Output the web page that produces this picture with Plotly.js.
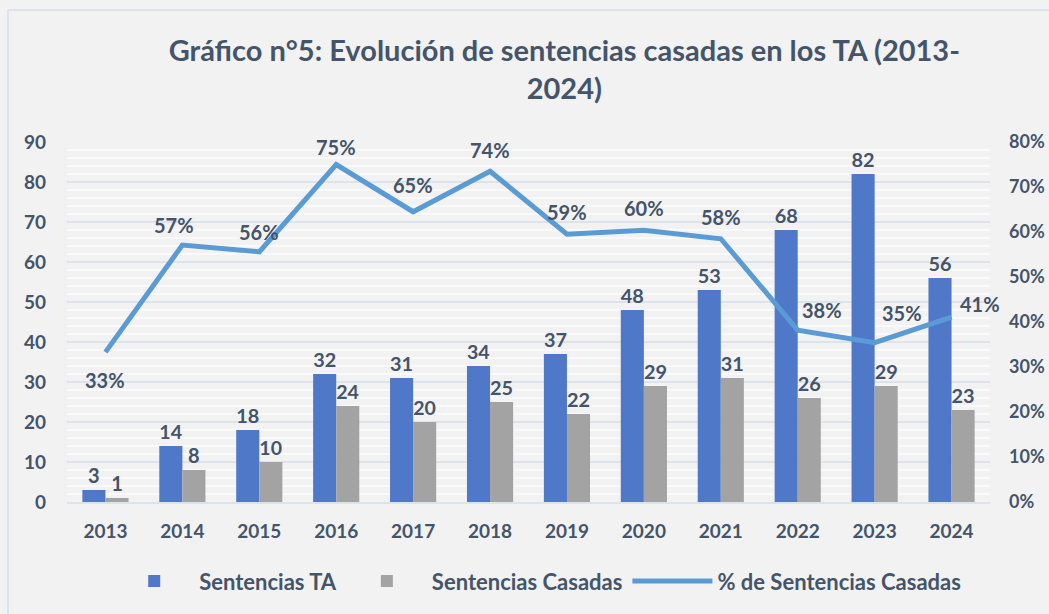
<!DOCTYPE html>
<html>
<head>
<meta charset="utf-8">
<script src="https://cdn.plot.ly/plotly-3.0.1.min.js"></script>
<style>
  html, body { margin: 0; padding: 0; background: #f2f2f2; }
  #chart { width: 1049px; height: 614px; }
</style>
</head>
<body>
<div id="chart"></div>
<script>
var years = ['2013','2014','2015','2016','2017','2018','2019','2020','2021','2022','2023','2024'];
var sentenciasTA = [3, 14, 18, 32, 31, 34, 37, 48, 53, 68, 82, 56];
var sentenciasCasadas = [1, 8, 10, 24, 20, 25, 22, 29, 31, 26, 29, 23];
var pctCasadas = [33.3, 57.1, 55.6, 75, 64.5, 73.5, 59.5, 60.4, 58.5, 38.2, 35.4, 41.1];
var pctLabels = ['33%','57%','56%','75%','65%','74%','59%','60%','58%','38%','35%','41%'];

var txtColor = '#44546a';
var font = 'Lato, "Open Sans", sans-serif';

// barras
var trace1 = {
  x: years, y: sentenciasTA, type: 'bar', name: 'Sentencias TA',
  marker: {color: '#4f78c9'},
  text: sentenciasTA.map(String), textposition: 'outside',
  textfont: {family: font, size: 20, color: txtColor, weight: 'bold'},
  cliponaxis: false, hoverinfo: 'none'
};
var trace2 = {
  x: years, y: sentenciasCasadas, type: 'bar', name: 'Sentencias Casadas',
  marker: {color: '#a3a3a3'},
  text: sentenciasCasadas.map(String), textposition: 'outside',
  textfont: {family: font, size: 20, color: txtColor, weight: 'bold'},
  cliponaxis: false, hoverinfo: 'none'
};
// linea %
var trace3 = {
  x: years, y: pctCasadas, type: 'scatter', mode: 'lines', yaxis: 'y2',
  name: '% de Sentencias Casadas',
  line: {color: '#5b9bd5', width: 5},
  cliponaxis: false, hoverinfo: 'none'
};

// etiquetas de % (desplazamiento en px respecto al punto)
var lblDx = [0, -8, 0, 0, 0, 0, 0, 0, 0, 24, 27, 28];
var lblDy = [-28, 20, 20, 18, 27, 21, 22, 22, 22, 20, 30, 13];
var pctAnn = [];
for (var i = 0; i < years.length; i++) {
  pctAnn.push({
    x: i, y: pctCasadas[i], xref: 'x', yref: 'y2', text: '<b>' + pctLabels[i] + '</b>',
    showarrow: false, xshift: lblDx[i], yshift: lblDy[i],
    font: {family: font, size: 20, color: txtColor}
  });
}

var layout = {
  width: 1049, height: 614,
  paper_bgcolor: '#f2f2f2', plot_bgcolor: '#f2f2f2',
  margin: {l: 67, r: 59, t: 142, b: 112},
  font: {family: font, color: txtColor},
  title: {
    text: 'Gráfico n°5: Evolución de sentencias casadas en los TA (2013-<br>2024)',
    font: {family: font, size: 29, color: txtColor, weight: 'bold'},
    x: 0.538, xanchor: 'center', y: 0.9, yanchor: 'top'
  },
  barmode: 'group', bargap: 0.4, bargroupgap: 0,
  showlegend: true,
  legend: {
    orientation: 'h', x: 0.51, xanchor: 'center', y: -0.22, yanchor: 'middle',
    font: {family: font, size: 22, color: txtColor, weight: 'bold'},
    itemwidth: 80, bgcolor: 'rgba(0,0,0,0)'
  },
  annotations: pctAnn,
  xaxis: {
    type: 'category', range: [-0.5, 11.5], autorange: false,
    showgrid: false, zeroline: false,
    showline: true, linecolor: '#dde3ea', linewidth: 2,
    ticks: '', ticklabelstandoff: 11,
    tickfont: {family: font, size: 19, color: txtColor, weight: 'bold'}
  },
  yaxis: {
    range: [0, 90], dtick: 10, showline: false, zeroline: false,
    gridcolor: '#dde3ea', gridwidth: 2, ticks: '', ticklabelstandoff: 20,
    minor: {dtick: 2, showgrid: true, gridcolor: '#fafafa', gridwidth: 2},
    tickfont: {family: font, size: 19, color: txtColor, weight: 'bold'}
  },
  yaxis2: {
    range: [0, 80], dtick: 10, overlaying: 'y', side: 'right',
    showgrid: false, zeroline: false, showline: false, ticks: '',
    ticksuffix: '%', ticklabelstandoff: 18,
    tickfont: {family: font, size: 18, color: txtColor, weight: 'bold'}
  },
  shapes: [{
    type: 'rect', xref: 'paper', yref: 'paper',
    x0: (8 - 67) / 923, x1: (1060 - 67) / 923,
    y0: (502 - 630) / 360, y1: (502 - 10) / 360,
    line: {color: '#dde3ea', width: 2}, fillcolor: 'rgba(0,0,0,0)', layer: 'below'
  }]
};

Plotly.newPlot('chart', [trace1, trace2, trace3], layout, {displayModeBar: false, staticPlot: true});
</script>
</body>
</html>
